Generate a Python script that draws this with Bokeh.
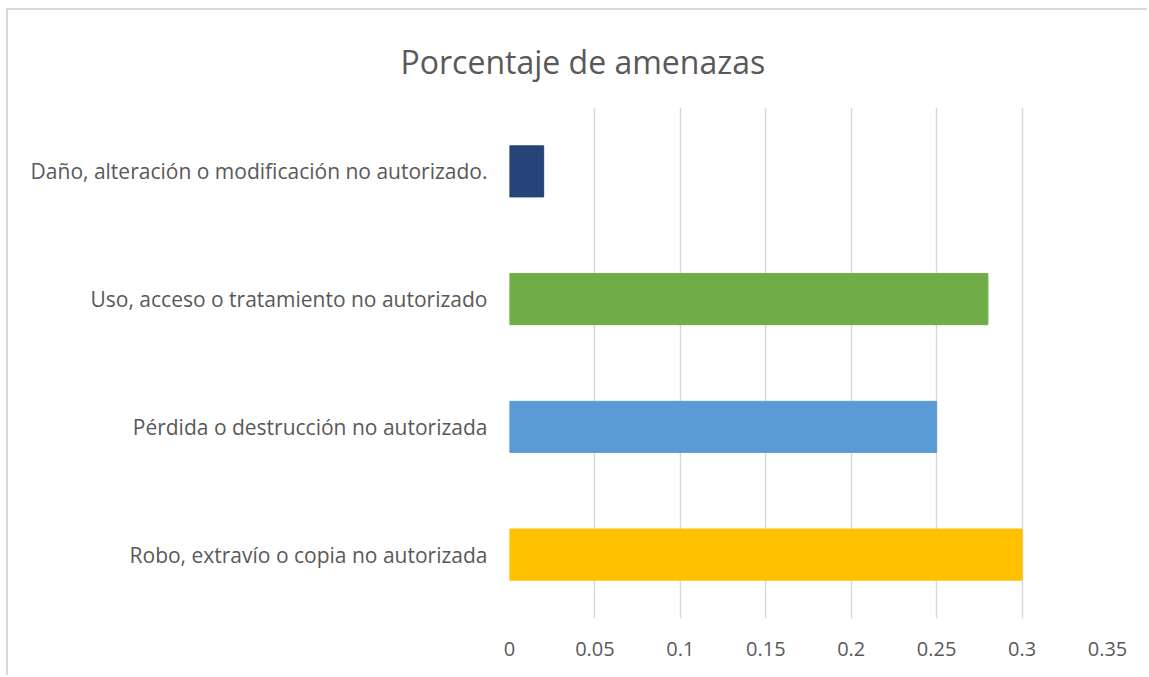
from bokeh.plotting import figure
from bokeh.models import ColumnDataSource, Title, FixedTicker, Range1d
from bokeh.embed import file_html
from bokeh.resources import INLINE

categories = [
    "Robo, extravío o copia no autorizada",
    "Pérdida o destrucción no autorizada",
    "Uso, acceso o tratamiento no autorizado",
    "Daño, alteración o modificación no autorizado.",
]
values = [0.30, 0.25, 0.28, 0.02]
colors = ["#FFC000", "#5B9BD5", "#70AD47", "#264478"]
tick_values = [0, 0.05, 0.1, 0.15, 0.2, 0.25, 0.3, 0.35]
tick_labels = ["0", "0.05", "0.1", "0.15", "0.2", "0.25", "0.3", "0.35"]
title_text = "Porcentaje de amenazas"

source = ColumnDataSource(dict(cat=categories, val=values, color=colors))

p = figure(
    width=1141, height=667,
    y_range=categories,
    x_range=Range1d(0, 0.35),
    output_backend="svg",
    toolbar_location=None,
    min_border_left=501, min_border_right=42,
    min_border_top=97, min_border_bottom=59,
)
p.hbar(y="cat", right="val", left=0, height=0.4, color="color", source=source)

p.styles = {
    "border-left": "2px solid #D9D9D9",
    "border-top": "2px solid #D9D9D9",
    "border-right": "none",
    "border-bottom": "none",
    "margin-left": "6px",
    "margin-top": "8px",
}
p.outline_line_color = None
p.background_fill_color = "white"
p.border_fill_color = "white"

p.xaxis.ticker = FixedTicker(ticks=tick_values)
p.xaxis.major_label_overrides = {v: s for v, s in zip(tick_values, tick_labels)}
p.xaxis.axis_line_color = None
p.yaxis.axis_line_color = None
p.xaxis.major_tick_line_color = None
p.yaxis.major_tick_line_color = None
p.xaxis.minor_tick_line_color = None
p.xaxis.major_label_text_font = "Open Sans"
p.yaxis.major_label_text_font = "Open Sans"
p.xaxis.major_label_text_font_size = "20px"
p.yaxis.major_label_text_font_size = "21px"
p.xaxis.major_label_text_color = "#595959"
p.yaxis.major_label_text_color = "#595959"
p.xaxis.major_label_standoff = 17
p.yaxis.major_label_standoff = 16

p.xgrid.grid_line_color = "#D9D9D9"
p.xgrid.grid_line_width = 1.5
p.ygrid.grid_line_color = None

title = Title(
    text=title_text, align="left", offset=-109, standoff=49,
    text_font="Open Sans", text_font_size="32px", text_color="#595959",
    text_font_style="normal",
)
p.add_layout(title, "above")

open("out.html", "w").write(file_html(p, INLINE))
